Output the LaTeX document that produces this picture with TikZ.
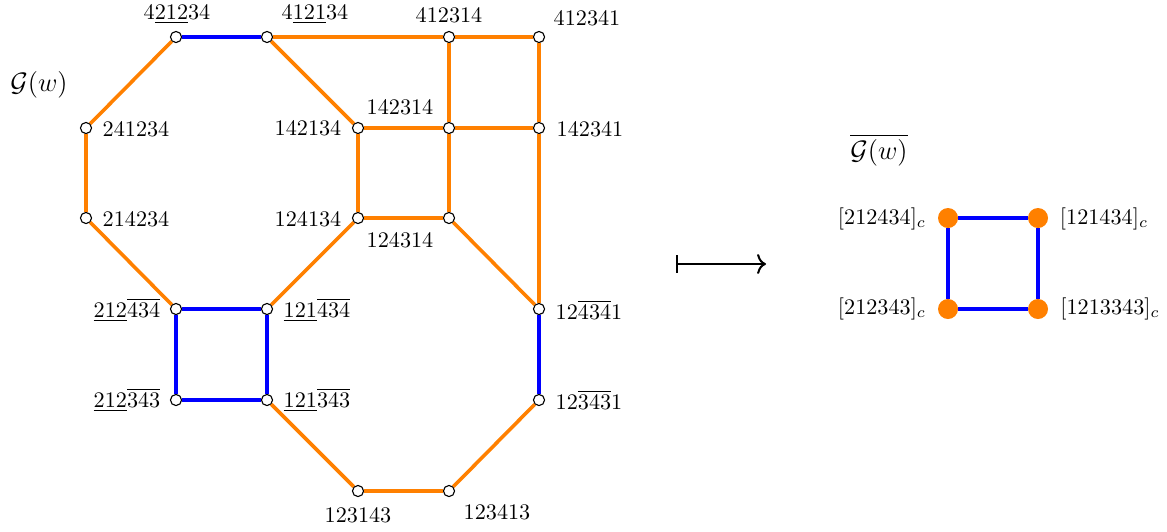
\documentclass[tikz,border=0pt]{standalone}
\usepackage{amsmath}
\usetikzlibrary{arrows.meta}
\definecolor{eorange}{RGB}{255,128,0}
\definecolor{eblue}{RGB}{0,0,255}
\begin{document}
\begin{tikzpicture}[x=0.45pt,y=-0.45pt,
  v/.style={circle,draw=black,fill=white,line width=0.5pt,inner sep=0pt,minimum size=5pt},
  cls/.style={circle,fill=eorange,inner sep=0pt,minimum size=9pt},
  lbl/.style={inner sep=0pt,text height=6.44pt,text depth=0pt,anchor=center},
  title/.style={font=\fontsize{13}{15}\selectfont},
  oe/.style={draw=eorange,line width=1.6pt},
  be/.style={draw=eblue,line width=1.6pt}]
\useasboundingbox (0,0) rectangle (1167,531);

% vertices of G(w)
\node[v] (a1) at (176,37) {};
\node[v] (a2) at (267,37) {};
\node[v] (a3) at (449,37) {};
\node[v] (a4) at (539,37) {};
\node[v] (b1) at (86,128) {};
\node[v] (b2) at (358,128) {};
\node[v] (b3) at (449,128) {};
\node[v] (b4) at (539,128) {};
\node[v] (c1) at (86,218) {};
\node[v] (c2) at (358,218) {};
\node[v] (c3) at (449,218) {};
\node[v] (d1) at (176,309) {};
\node[v] (d2) at (267,309) {};
\node[v] (d3) at (539,309) {};
\node[v] (e1) at (176,400) {};
\node[v] (e2) at (267,400) {};
\node[v] (e3) at (539,400) {};
\node[v] (f1) at (358,491) {};
\node[v] (f2) at (449,491) {};

% vertex labels
\node[lbl] (la1) at (177,12) {$4\underline{212}34$};
\node[lbl] (la2) at (315,12) {$4\underline{121}34$};
\node[lbl] (la3) at (449,15) {$412314$};
\node[lbl] (la4) at (587,18) {$412341$};
\node[lbl] (lb1) at (136,129) {$241234$};
\node[lbl] (lb2) at (308,128) {$142134$};
\node[lbl] (lb3) at (400,107) {$142314$};
\node[lbl] (lb4) at (590,129) {$142341$};
\node[lbl] (lc1) at (136,219) {$214234$};
\node[lbl] (lc2) at (308,219) {$124134$};
\node[lbl] (lc3) at (400,240) {$124314$};
\node[lbl] (ld1) at (127,310) {$\underline{212}\overline{434}$};
\node[lbl] (ld2) at (317,310) {$\underline{121}\overline{434}$};
\node[lbl] (ld3) at (589,312) {$12\overline{434}1$};
\node[lbl] (le1) at (127,400) {$\underline{212}\overline{343}$};
\node[lbl] (le2) at (317,400) {$\underline{121}\overline{343}$};
\node[lbl] (le3) at (589,402) {$12\overline{343}1$};
\node[lbl] (lf1) at (358,515) {$123143$};
\node[lbl] (lf2) at (497,512) {$123413$};

\node[title] (gw) at (39,85) {$\mathcal{G}(w)$};

% edges of G(w)
\draw[oe] (b1) -- (a1);
\draw[be] (a1) -- (a2);
\draw[oe] (a2) -- (a3);
\draw[oe] (a3) -- (a4);
\draw[oe] (a2) -- (b2);
\draw[oe] (a3) -- (b3);
\draw[oe] (a4) -- (b4);
\draw[oe] (b2) -- (b3);
\draw[oe] (b3) -- (b4);
\draw[oe] (b2) -- (c2);
\draw[oe] (b3) -- (c3);
\draw[oe] (c2) -- (c3);
\draw[oe] (b1) -- (c1);
\draw[oe] (c1) -- (d1);
\draw[oe] (c2) -- (d2);
\draw[oe] (c3) -- (d3);
\draw[oe] (b4) -- (d3);
\draw[be] (d1) -- (d2);
\draw[be] (d2) -- (e2);
\draw[be] (e2) -- (e1);
\draw[be] (e1) -- (d1);
\draw[be] (d3) -- (e3);
\draw[oe] (e2) -- (f1);
\draw[oe] (f1) -- (f2);
\draw[oe] (f2) -- (e3);

% the map
\coordinate (ms) at (676,264);
\coordinate (me) at (766,264);
\draw[line width=0.9pt,{Bar[width=8pt]}-{Computer Modern Rightarrow[length=4pt,width=9pt]}] (ms) -- (me);

% quotient graph
\node[title] (gbar) at (879,150) {$\overline{\mathcal{G}(w)}$};
\node[cls] (r1) at (948,218) {};
\node[cls] (r2) at (1038,218) {};
\node[cls] (r3) at (948,309) {};
\node[cls] (r4) at (1038,309) {};
\draw[be] (r1) -- (r2);
\draw[be] (r2) -- (r4);
\draw[be] (r4) -- (r3);
\draw[be] (r3) -- (r1);
\node (lr1) at (882,219) {$[212434]_c$};
\node (lr2) at (1104,219) {$[121434]_c$};
\node (lr3) at (882,309) {$[212343]_c$};
\node (lr4) at (1110,309) {$[1213343]_c$};
\end{tikzpicture}
\end{document}
